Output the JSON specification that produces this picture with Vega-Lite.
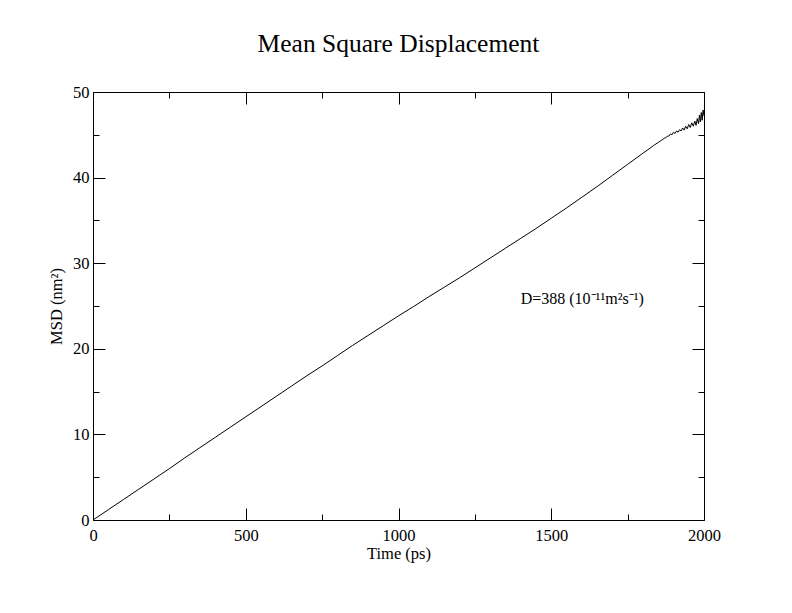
{
  "$schema": "https://vega.github.io/schema/vega-lite/v6.json",
  "width": 611,
  "height": 428,
  "autosize": "none",
  "padding": {"left": 93, "top": 92, "right": 88, "bottom": 93},
  "background": "white",
  "title": {
    "text": "Mean Square Displacement",
    "font": "Liberation Serif",
    "fontSize": 25.5,
    "fontWeight": "normal",
    "color": "black",
    "anchor": "middle",
    "frame": "group",
    "baseline": "bottom",
    "offset": 2
  },
  "config": {
    "view": {"stroke": null},
    "axis": {
      "grid": false,
      "domainColor": "black",
      "domainWidth": 1,
      "tickColor": "black",
      "tickWidth": 1,
      "labelFont": "Liberation Serif",
      "labelFontSize": 16.5,
      "labelColor": "black",
      "labelFlush": false,
      "labelOverlap": false,
      "format": "d",
      "titleFont": "Liberation Serif",
      "titleFontSize": 16.5,
      "titleFontWeight": "normal",
      "titleColor": "black"
    }
  },
  "datasets": {
    "msd": [
      {"t": 0, "v": 0}, {"t": 50, "v": 1.2}, {"t": 100, "v": 2.4}, {"t": 150, "v": 3.6},
      {"t": 200, "v": 4.8}, {"t": 250, "v": 6.0}, {"t": 300, "v": 7.25}, {"t": 350, "v": 8.45},
      {"t": 400, "v": 9.65}, {"t": 450, "v": 10.85}, {"t": 500, "v": 12.05}, {"t": 550, "v": 13.25},
      {"t": 600, "v": 14.45}, {"t": 650, "v": 15.65}, {"t": 700, "v": 16.85}, {"t": 750, "v": 18.0},
      {"t": 800, "v": 19.2}, {"t": 850, "v": 20.4}, {"t": 900, "v": 21.55}, {"t": 950, "v": 22.7},
      {"t": 1000, "v": 23.85}, {"t": 1050, "v": 24.95}, {"t": 1100, "v": 26.1}, {"t": 1150, "v": 27.2},
      {"t": 1200, "v": 28.3}, {"t": 1250, "v": 29.45}, {"t": 1300, "v": 30.6}, {"t": 1350, "v": 31.75},
      {"t": 1400, "v": 32.9}, {"t": 1450, "v": 34.05}, {"t": 1500, "v": 35.25}, {"t": 1550, "v": 36.45},
      {"t": 1600, "v": 37.7}, {"t": 1650, "v": 38.95}, {"t": 1700, "v": 40.25}, {"t": 1750, "v": 41.55},
      {"t": 1800, "v": 42.85}, {"t": 1820, "v": 43.35}, {"t": 1835, "v": 43.75}, {"t": 1850, "v": 44.1},
      {"t": 1860, "v": 44.35}, {"t": 1865, "v": 44.45}, {"t": 1870, "v": 44.6}, {"t": 1875, "v": 44.65},
      {"t": 1880, "v": 44.85}, {"t": 1885, "v": 44.85}, {"t": 1890, "v": 45.1}, {"t": 1895, "v": 45.0},
      {"t": 1900, "v": 45.3}, {"t": 1905, "v": 45.15}, {"t": 1910, "v": 45.45}, {"t": 1915, "v": 45.3},
      {"t": 1920, "v": 45.6}, {"t": 1925, "v": 45.45}, {"t": 1930, "v": 45.8}, {"t": 1935, "v": 45.55},
      {"t": 1940, "v": 46.0}, {"t": 1945, "v": 45.7}, {"t": 1950, "v": 46.2}, {"t": 1955, "v": 45.85},
      {"t": 1960, "v": 46.4}, {"t": 1965, "v": 46.0}, {"t": 1970, "v": 46.6}, {"t": 1974, "v": 46.1},
      {"t": 1978, "v": 46.9}, {"t": 1982, "v": 46.3}, {"t": 1985, "v": 47.3}, {"t": 1988, "v": 46.5},
      {"t": 1991, "v": 47.6}, {"t": 1994, "v": 46.7}, {"t": 1997, "v": 47.9}, {"t": 2000, "v": 47.2}
    ],
    "note": [
      {"t": 1400, "v": 25.2, "label": "D=388 (10⁻¹¹m²s⁻¹)"}
    ],
    "frame": [
      {"t": 0, "v": 0}, {"t": 2000, "v": 50}
    ]
  },
  "layer": [
    {
      "data": {"name": "msd"},
      "mark": {"type": "line", "color": "black", "strokeWidth": 1, "clip": true},
      "encoding": {
        "x": {
          "field": "t", "type": "quantitative",
          "scale": {"domain": [0, 2000], "nice": false, "zero": false},
          "axis": {"orient": "bottom", "values": [0, 500, 1000, 1500, 2000], "tickSize": -12, "labelPadding": 19, "title": "Time (ps)", "titlePadding": 2}
        },
        "y": {
          "field": "v", "type": "quantitative",
          "scale": {"domain": [0, 50], "nice": false, "zero": false},
          "axis": {"orient": "left", "values": [0, 10, 20, 30, 40, 50], "tickSize": -12, "labelPadding": 16, "title": "MSD (nm²)", "titlePadding": 8}
        }
      }
    },
    {
      "data": {"name": "note"},
      "mark": {"type": "text", "align": "left", "baseline": "alphabetic", "font": "Liberation Serif", "fontSize": 16, "color": "black"},
      "encoding": {
        "x": {"field": "t", "type": "quantitative", "axis": {"orient": "bottom", "values": [250, 750, 1250, 1750], "tickSize": -6, "labels": false, "domain": false, "title": null}},
        "y": {"field": "v", "type": "quantitative", "axis": {"orient": "left", "values": [5, 15, 25, 35, 45], "tickSize": -6, "labels": false, "domain": false, "title": null}},
        "text": {"field": "label"}
      }
    },
    {
      "data": {"name": "frame"},
      "mark": {"type": "point", "opacity": 0},
      "encoding": {
        "x": {"field": "t", "type": "quantitative", "axis": {"orient": "top", "values": [0, 500, 1000, 1500, 2000], "tickSize": -12, "labels": false, "title": null}},
        "y": {"field": "v", "type": "quantitative", "axis": {"orient": "right", "values": [0, 10, 20, 30, 40, 50], "tickSize": -12, "labels": false, "title": null}}
      }
    },
    {
      "data": {"name": "frame"},
      "mark": {"type": "point", "opacity": 0},
      "encoding": {
        "x": {"field": "t", "type": "quantitative", "axis": {"orient": "top", "values": [250, 750, 1250, 1750], "tickSize": -6, "labels": false, "domain": false, "title": null}},
        "y": {"field": "v", "type": "quantitative", "axis": {"orient": "right", "values": [5, 15, 25, 35, 45], "tickSize": -6, "labels": false, "domain": false, "title": null}}
      }
    }
  ],
  "resolve": {"axis": {"x": "independent", "y": "independent"}}
}
